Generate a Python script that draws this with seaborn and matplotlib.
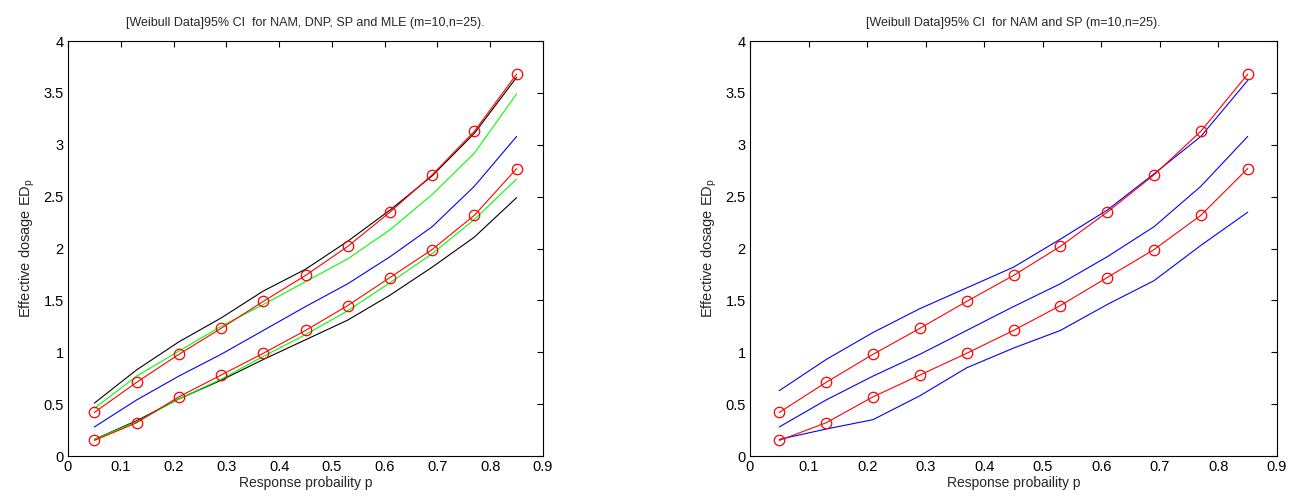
import numpy as np
import pandas as pd
import matplotlib
matplotlib.use("Agg")
import matplotlib.pyplot as plt
import seaborn as sns

sns.set_style("white")
plt.rcParams['font.family'] = ['Liberation Sans', 'DejaVu Sans']

p = [0.05, 0.13, 0.21, 0.29, 0.37, 0.45, 0.53, 0.61, 0.69, 0.77, 0.85]

# Left panel: NAM, DNP, SP, MLE
black_upper = [0.51, 0.83, 1.10, 1.33, 1.59, 1.80, 2.07, 2.37, 2.70, 3.11, 3.65]
black_lower = [0.16, 0.34, 0.55, 0.73, 0.93, 1.12, 1.31, 1.55, 1.82, 2.11, 2.49]
green_upper = [0.46, 0.77, 1.01, 1.25, 1.46, 1.68, 1.90, 2.18, 2.52, 2.92, 3.49]
green_lower = [0.16, 0.33, 0.55, 0.74, 0.96, 1.17, 1.40, 1.67, 1.95, 2.28, 2.67]
blue_mid    = [0.28, 0.54, 0.77, 0.98, 1.21, 1.44, 1.66, 1.92, 2.21, 2.60, 3.08]
red_upper   = [0.42, 0.71, 0.98, 1.23, 1.49, 1.74, 2.02, 2.35, 2.71, 3.13, 3.68]
red_lower   = [0.15, 0.32, 0.57, 0.78, 0.99, 1.21, 1.45, 1.72, 1.99, 2.32, 2.77]

# Right panel: NAM and SP
blue_upper_r = [0.63, 0.93, 1.19, 1.42, 1.62, 1.82, 2.09, 2.37, 2.72, 3.08, 3.62]
blue_lower_r = [0.16, 0.26, 0.35, 0.58, 0.85, 1.04, 1.21, 1.46, 1.69, 2.03, 2.35]

xticks = [0, 0.1, 0.2, 0.3, 0.4, 0.5, 0.6, 0.7, 0.8, 0.9]
xticklabels = ["0", "0.1", "0.2", "0.3", "0.4", "0.5", "0.6", "0.7", "0.8", "0.9"]
yticks = [0, 0.5, 1, 1.5, 2, 2.5, 3, 3.5, 4]
yticklabels = ["0", "0.5", "1", "1.5", "2", "2.5", "3", "3.5", "4"]

titles = ["[Weibull Data]95% CI  for NAM, DNP, SP and MLE (m=10,n=25).",
          "[Weibull Data]95% CI  for NAM and SP (m=10,n=25)."]

fig = plt.figure(figsize=(12.94, 5.0), dpi=100)
axL = fig.add_axes([68/1294, 44/500, 475/1294, 415/500])
axR = fig.add_axes([750/1294, 44/500, 527/1294, 415/500])

def draw(ax, y, color, marker=False):
    df = pd.DataFrame({"p": p, "v": y})
    kw = dict(color=color, linewidth=0.8, ax=ax, legend=False)
    if marker:
        kw.update(marker="o", markersize=7.5, markerfacecolor="none",
                  markeredgecolor=color, markeredgewidth=0.9)
    sns.lineplot(data=df, x="p", y="v", **kw)

draw(axL, black_upper, "black")
draw(axL, black_lower, "black")
draw(axL, green_upper, "#00ff00")
draw(axL, green_lower, "#00ff00")
draw(axL, blue_mid, "blue")
draw(axL, red_upper, "red", True)
draw(axL, red_lower, "red", True)

draw(axR, blue_upper_r, "blue")
draw(axR, blue_mid, "blue")
draw(axR, blue_lower_r, "blue")
draw(axR, red_upper, "red", True)
draw(axR, red_lower, "red", True)

for ax, t in zip([axL, axR], titles):
    ax.set_xlim(0, 0.9)
    ax.set_ylim(0, 4)
    ax.set_xticks(xticks)
    ax.set_xticklabels(xticklabels)
    ax.set_yticks(yticks)
    ax.set_yticklabels(yticklabels)
    ax.tick_params(direction="in", length=4, width=0.8, top=True, right=True,
                   labelsize=10.5, colors="black", pad=3)
    for s in ax.spines.values():
        s.set_visible(True)
        s.set_color("black")
        s.set_linewidth(0.8)
    ax.set_title(t, fontsize=9, pad=11)
    ax.set_xlabel("Response probaility p", fontsize=10, labelpad=1)
    ax.set_ylabel("Effective dosage ED$_{\\mathregular{p}}$", fontsize=10.5, labelpad=5)
    ax.grid(False)

fig.savefig("out.png", dpi=100, facecolor="white")
